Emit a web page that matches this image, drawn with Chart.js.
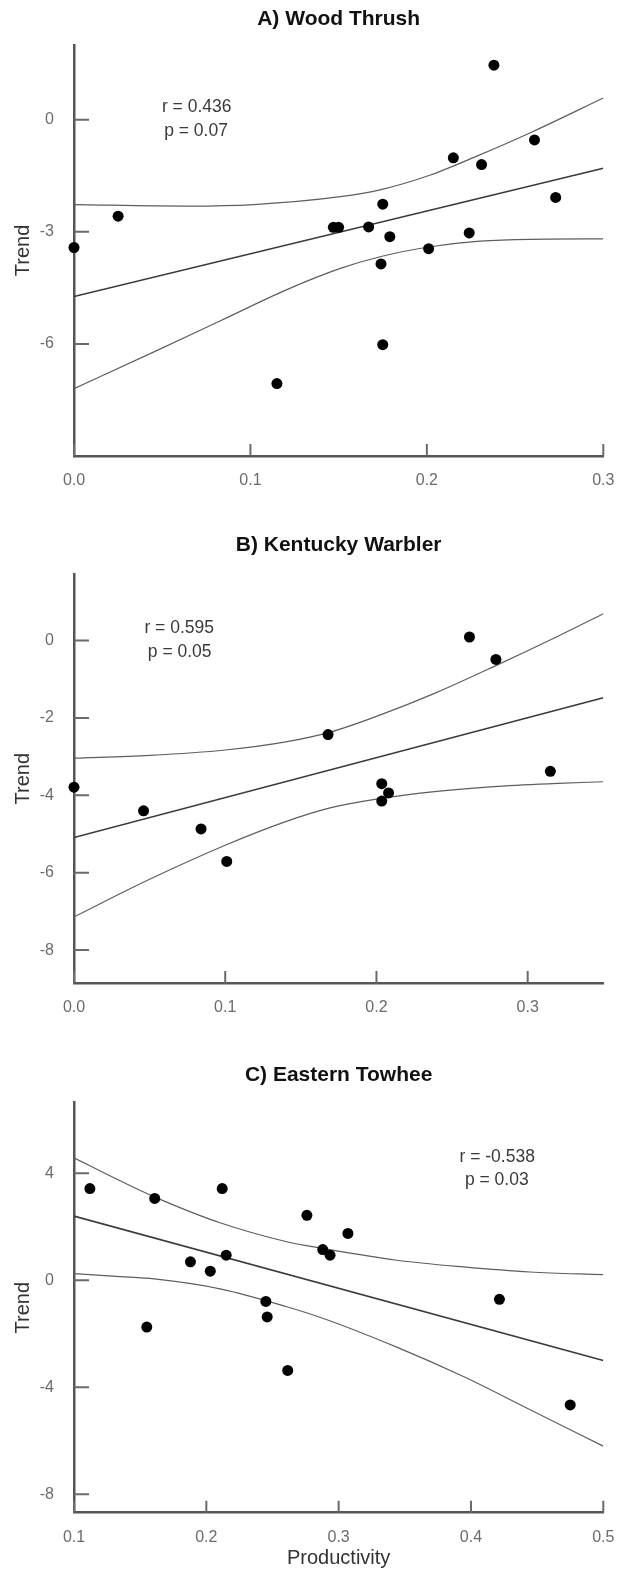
<!DOCTYPE html>
<html><head><meta charset="utf-8">
<script src="https://cdn.jsdelivr.net/npm/chart.js@4.4.0/dist/chart.umd.min.js"></script>
<style>
html,body{margin:0;padding:0;background:#fff;}
body{width:618px;height:1574px;position:relative;overflow:hidden;}
canvas{position:absolute;left:0;}
</style></head><body>
<canvas id="cA" width="618" height="500" style="top:0px"></canvas>
<canvas id="cB" width="618" height="527" style="top:500px"></canvas>
<canvas id="cC" width="618" height="544" style="top:1030px"></canvas>
<script>
// ---------- A) Wood Thrush ----------
const woodX = [0.000, 0.025, 0.115, 0.147, 0.150, 0.167, 0.174, 0.175, 0.175, 0.179, 0.201, 0.215, 0.224, 0.231, 0.238, 0.261, 0.273];
const woodY = [-3.42, -2.58, -7.06, -2.88, -2.88, -2.87, -3.86, -2.26, -6.02, -3.13, -3.45, -1.02, -3.03, -1.20, 1.46, -0.54, -2.08];
const woodFitX = [0, 0.3];
const woodFitY = [-4.73, -1.30];
const woodUpX = [0, 0.064, 0.102, 0.151, 0.174, 0.202, 0.230, 0.259, 0.3];
const woodUpY = [-2.27, -2.31, -2.27, -2.06, -1.87, -1.48, -0.94, -0.34, 0.58];
const woodLoX = [0, 0.045, 0.083, 0.121, 0.151, 0.174, 0.202, 0.230, 0.259, 0.3];
const woodLoY = [-7.20, -6.22, -5.38, -4.54, -3.98, -3.66, -3.40, -3.25, -3.20, -3.19];
const woodXTicks = [0, 0.1, 0.2, 0.3];
const woodYTicks = [-6, -3, 0];
const woodRange = [-9, 2];

// ---------- B) Kentucky Warbler ----------
const warbX = [0.000, 0.046, 0.084, 0.101, 0.168, 0.2035, 0.2035, 0.208, 0.2615, 0.279, 0.315];
const warbY = [-3.79, -4.40, -4.87, -5.71, -2.43, -3.70, -4.15, -3.94, 0.09, -0.49, -3.38];
const warbFitX = [0, 0.35];
const warbFitY = [-5.09, -1.48];
const warbUpX = [0, 0.05, 0.10, 0.14, 0.17, 0.20, 0.24, 0.28, 0.32, 0.35];
const warbUpY = [-3.04, -2.97, -2.83, -2.62, -2.36, -1.96, -1.34, -0.63, 0.11, 0.69];
const warbLoX = [0, 0.05, 0.10, 0.14, 0.17, 0.20, 0.24, 0.28, 0.32, 0.35];
const warbLoY = [-7.14, -6.17, -5.29, -4.68, -4.32, -4.10, -3.90, -3.77, -3.69, -3.65];
const warbXTicks = [0, 0.1, 0.2, 0.3];
const warbYTicks = [-8, -6, -4, -2, 0];
const warbRange = [-8.85, 1.71];

// ---------- C) Eastern Towhee ----------
const towhX = [0.112, 0.155, 0.161, 0.188, 0.203, 0.212, 0.215, 0.245, 0.246, 0.2615, 0.276, 0.288, 0.2935, 0.307, 0.4215, 0.475];
const towhY = [3.43, -1.75, 3.06, 0.69, 0.34, 3.43, 0.94, -0.79, -1.37, -3.37, 2.43, 1.15, 0.94, 1.75, -0.71, -4.66];
const towhFitX = [0.1, 0.5];
const towhFitY = [2.40, -3.00];
const towhUpX = [0.1, 0.1348, 0.1607, 0.2104, 0.2608, 0.288, 0.3439, 0.3943, 0.4447, 0.5];
const towhUpY = [4.58, 3.72, 3.12, 2.15, 1.44, 1.19, 0.75, 0.50, 0.31, 0.21];
const towhLoX = [0.1, 0.1348, 0.1607, 0.2104, 0.2608, 0.288, 0.3439, 0.3943, 0.4447, 0.5];
const towhLoY = [0.25, 0.14, 0.05, -0.32, -0.99, -1.42, -2.50, -3.60, -4.84, -6.20];
const towhXTicks = [0.1, 0.2, 0.3, 0.4, 0.5];
const towhYTicks = [-8, -4, 0, 4];
const towhRange = [-8.69, 6.64];

const FONT = '"Liberation Sans", Arial, Helvetica, sans-serif';

function pts(xs, ys) { return xs.map((v, i) => ({x: v, y: ys[i]})); }

const decor = {
  id: 'decor',
  beforeDatasetsDraw(chart, args, o) {
    const {ctx, chartArea: a, scales: {x, y}} = chart;
    ctx.save();
    ctx.strokeStyle = '#6a6a6a';
    ctx.lineWidth = 2;
    ctx.beginPath();
    o.xTicks.forEach(v => { const px = x.getPixelForValue(v); ctx.moveTo(px, a.bottom); ctx.lineTo(px, a.bottom - 12); });
    o.yTicks.forEach(v => { const py = y.getPixelForValue(v); ctx.moveTo(a.left, py); ctx.lineTo(a.left + 15, py); });
    ctx.stroke();
    ctx.restore();
  },
  afterDraw(chart, args, o) {
    const {ctx, chartArea: a} = chart;
    ctx.save();
    ctx.textAlign = 'center';
    ctx.textBaseline = 'middle';
    ctx.fillStyle = '#111';
    ctx.font = 'bold 21px ' + FONT;
    ctx.fillText(o.title, (a.left + a.right) / 2, o.titleY);
    ctx.fillStyle = '#3a3a3a';
    ctx.font = '17.5px ' + FONT;
    o.notes.forEach(n => ctx.fillText(n.t, n.x, n.y));
    ctx.restore();
  }
};

function makeChart(id, c) {
  const xs = {
    type: 'linear', position: 'bottom', min: c.xMin, max: c.xMax,
    afterBuildTicks: s => { s.ticks = c.xTicks.map(v => ({value: v})); },
    afterFit: s => { s.height = c.xAxisH; s.paddingLeft = 0; s.paddingRight = 0; },
    grid: {display: false, drawTicks: false},
    border: {display: true, color: '#555', width: 2.5},
    ticks: {padding: 15, color: '#6b6b6b', font: {family: FONT, size: 16}, maxRotation: 0, autoSkip: false,
            callback: v => Number(v).toFixed(1)},
    title: c.xTitle ? {display: true, text: c.xTitle, color: '#333', font: {family: FONT, size: 20},
            padding: {top: 0, bottom: 3.7}} : {display: false}
  };
  const ys = {
    type: 'linear', position: 'left', min: c.yRange[0], max: c.yRange[1],
    afterBuildTicks: s => { s.ticks = c.yTicks.map(v => ({value: v})); },
    afterFit: s => { s.width = 74; s.paddingTop = 0; s.paddingBottom = 0; },
    grid: {display: false, drawTicks: false},
    border: {display: true, color: '#555', width: 2.5},
    ticks: {padding: 20, color: '#6b6b6b', font: {family: FONT, size: 16}, autoSkip: false,
            callback: v => String(v)},
    title: {display: true, text: 'Trend', color: '#333', font: {family: FONT, size: 20},
            padding: {top: 11.6, bottom: 0}}
  };
  return new Chart(document.getElementById(id), {
    type: 'scatter',
    data: {datasets: [
      {type: 'scatter', data: pts(c.x, c.y), backgroundColor: '#000', borderColor: '#000', borderWidth: 0,
       pointRadius: 5.5, pointHoverRadius: 5.5, clip: false, order: 0},
      {type: 'line', data: pts(c.fitX, c.fitY), borderColor: '#3a3a3a', borderWidth: 1.6, pointRadius: 0,
       fill: false, order: 1},
      {type: 'line', data: pts(c.upX, c.upY), borderColor: '#5e5e5e', borderWidth: 1.2, pointRadius: 0,
       fill: false, cubicInterpolationMode: 'monotone', order: 2},
      {type: 'line', data: pts(c.loX, c.loY), borderColor: '#5e5e5e', borderWidth: 1.2, pointRadius: 0,
       fill: false, cubicInterpolationMode: 'monotone', order: 3}
    ]},
    options: {
      responsive: false, animation: false, events: [],
      layout: {padding: {top: c.padTop, right: 14.7, left: 0, bottom: 0}},
      plugins: {legend: {display: false}, tooltip: {enabled: false},
                decor: {title: c.title, titleY: c.titleY, notes: c.notes, xTicks: c.xTicks, yTicks: c.yTicks}},
      scales: {x: xs, y: ys}
    },
    plugins: [decor]
  });
}

makeChart('cA', {
  x: woodX, y: woodY, fitX: woodFitX, fitY: woodFitY, upX: woodUpX, upY: woodUpY, loX: woodLoX, loY: woodLoY,
  xTicks: woodXTicks, yTicks: woodYTicks, yRange: woodRange, xMin: 0, xMax: 0.3,
  padTop: 45, xAxisH: 44, title: 'A) Wood Thrush', titleY: 19,
  notes: [{t: 'r = 0.436', x: 196.7, y: 106.7}, {t: 'p = 0.07', x: 196, y: 131.5}]
});
makeChart('cB', {
  x: warbX, y: warbY, fitX: warbFitX, fitY: warbFitY, upX: warbUpX, upY: warbUpY, loX: warbLoX, loY: warbLoY,
  xTicks: warbXTicks, yTicks: warbYTicks, yRange: warbRange, xMin: 0, xMax: 0.35,
  padTop: 74.3, xAxisH: 44, title: 'B) Kentucky Warbler', titleY: 45,
  notes: [{t: 'r = 0.595', x: 179.2, y: 128.3}, {t: 'p = 0.05', x: 179.7, y: 152.5}]
});
makeChart('cC', {
  x: towhX, y: towhY, fitX: towhFitX, fitY: towhFitY, upX: towhUpX, upY: towhUpY, loX: towhLoX, loY: towhLoY,
  xTicks: towhXTicks, yTicks: towhYTicks, yRange: towhRange, xMin: 0.1, xMax: 0.5,
  padTop: 72.7, xAxisH: 61.3, xTitle: 'Productivity', title: 'C) Eastern Towhee', titleY: 45,
  notes: [{t: 'r = -0.538', x: 497.2, y: 126.7}, {t: 'p = 0.03', x: 496.8, y: 150}]
});
</script>
</body></html>
